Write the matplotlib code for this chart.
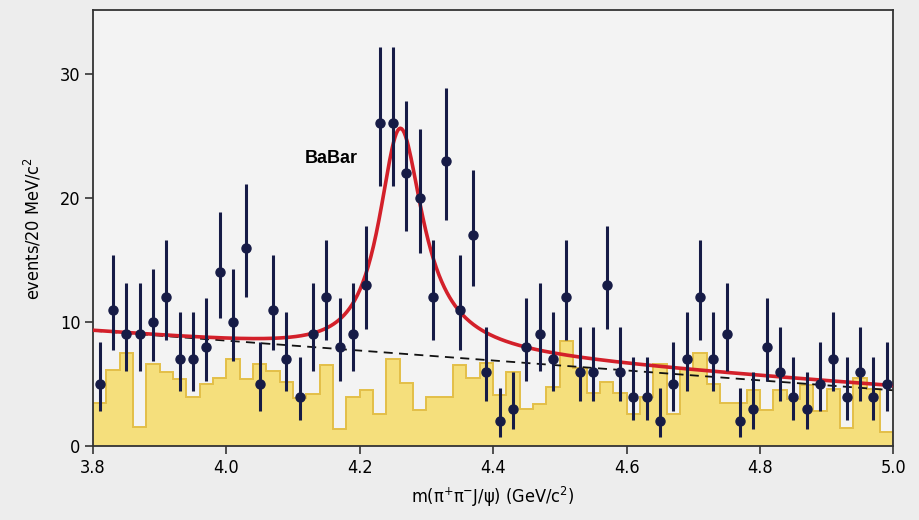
import numpy as np
import matplotlib
matplotlib.use("Agg")
import matplotlib.pyplot as plt

plt.rcParams['font.family'] = ['Liberation Sans Narrow', 'DejaVu Sans']
plt.rcParams['font.stretch'] = 'condensed'
plt.rcParams['mathtext.default'] = 'regular'

# ---- data ----
x_min, x_max, n_bins = 3.8, 5.0, 60

counts = [5, 11, 9, 9, 10, 12, 7, 7, 8, 14,
          10, 16, 5, 11, 7, 4, 9, 12, 8, 9,
          13, 26, 26, 22, 20, 12, 23, 11, 17, 6,
          2, 3, 8, 9, 7, 12, 6, 6, 13, 6,
          4, 4, 2, 5, 7, 12, 7, 9, 2, 3,
          8, 6, 4, 3, 5, 7, 4, 6, 4, 5]

sideband = [3.5, 6.1, 7.5, 1.55, 6.65, 6.0, 5.4, 4.0, 5.0, 5.5,
            7.05, 5.4, 6.6, 6.05, 5.2, 3.9, 4.2, 6.5, 1.4, 4.0,
            4.5, 2.6, 7.0, 5.1, 2.9, 4.0, 4.0, 6.5, 5.5, 6.7,
            4.1, 6.0, 3.0, 3.4, 4.8, 8.5, 6.3, 4.3, 5.2, 4.3,
            2.6, 4.0, 6.6, 2.6, 6.2, 7.5, 5.0, 3.5, 3.5, 4.5,
            2.9, 4.5, 3.8, 4.9, 2.8, 4.6, 1.5, 5.5, 4.6, 1.15]

# fit parameters (resonance + linear background)
bg_left, bg_right = 9.3, 4.5
peak_mass = 4.259
peak_width = 0.080
peak_height = 18.1
peak_skew = 2.67

edges = np.linspace(x_min, x_max, n_bins + 1)
centers = 0.5 * (edges[:-1] + edges[1:])
n = np.array(counts, dtype=float)

# Poisson (Gehrels) error bars
err_hi = np.sqrt(n + 0.75) + 1.0
err_lo = n - n * (1 - 1 / (9 * n) - 1 / (3 * np.sqrt(n))) ** 3

m = np.linspace(x_min, x_max, 600)
bg = bg_left + (bg_right - bg_left) * (m - x_min) / (x_max - x_min)
half = peak_width / 2
bw = peak_height * half ** 2 / ((m - peak_mass) ** 2 + half ** 2) * np.exp(peak_skew * (m - peak_mass))
fit = bg + bw

# ---- plot ----
fig = plt.figure(figsize=(9.2, 5.2), dpi=100, facecolor='#ededed')
ax = fig.add_axes([0.101, 0.142, 0.870, 0.838], facecolor='#f3f3f3')

ax.stairs(sideband, edges, fill=True, color='#f5df7c', zorder=1)
ax.stairs(sideband, edges, color='#e3bf48', lw=1.4, zorder=1.5)

ax.plot(m, bg, '--', color='#111111', lw=1.3, dashes=(5, 3.5), zorder=2)
ax.plot(m, fit, color='#d3202a', lw=2.6, zorder=3)

ax.errorbar(centers, counts, yerr=[err_lo, err_hi], fmt='o', color='#161b46',
            ms=6.5, elinewidth=2.2, capsize=0, zorder=4)

ax.text(4.118, 23.2, 'BaBar', fontsize=13, fontweight='bold', va='center', ha='left',
        family=['Liberation Sans', 'DejaVu Sans'], fontstretch='normal')

ax.set_xlim(x_min, x_max)
ax.set_ylim(0, 35.1)
ax.set_xticks([3.8, 4.0, 4.2, 4.4, 4.6, 4.8, 5.0])
ax.set_xticklabels(['3.8', '4.0', '4.2', '4.4', '4.6', '4.8', '5.0'])
ax.set_yticks([0, 10, 20, 30])
ax.tick_params(direction='out', length=6, width=1.2, labelsize=13, color='#333333', pad=3)

ax.set_xlabel(r'm($\pi^{+}\pi^{-}$J/$\psi$) (GeV/c$^{2}$)', fontsize=13, labelpad=6)
ax.set_ylabel(r'events/20 MeV/c$^{2}$', fontsize=13, labelpad=12)

for s in ax.spines.values():
    s.set_color('#333333')
    s.set_linewidth(1.3)

fig.savefig('out.png', dpi=100, facecolor=fig.get_facecolor())
